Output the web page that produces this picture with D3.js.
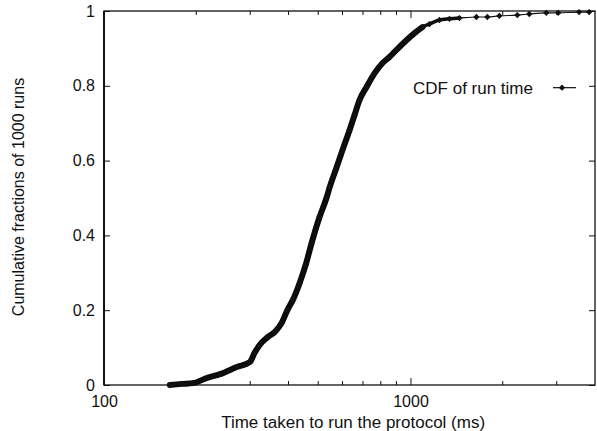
<!DOCTYPE html>
<html>
<head>
<meta charset="utf-8">
<script src="https://cdn.jsdelivr.net/npm/d3@7"></script>
<style>
  html, body { margin: 0; padding: 0; background: #fff; }
  text { font-family: "Liberation Sans", Arial, Helvetica, sans-serif; fill: #111; }
</style>
</head>
<body>
<div id="chart"></div>
<script>
// values (log x axis)
const runTimeMs = [164, 179, 195, 217, 239, 271, 299, 310, 322, 342, 361, 380, 397, 413, 435, 455,
  476, 505, 532, 545, 570, 600, 633, 657, 682, 719, 764, 811, 854, 900, 970, 1031, 1094, 1153,
  1243, 1340, 1444, 1641, 1782, 1950, 2231, 2441, 2773, 3034, 3549, 3829];
const cumulativeFraction = [0, 0.003, 0.005, 0.019, 0.029, 0.048, 0.061, 0.086, 0.107, 0.128, 0.142,
  0.166, 0.201, 0.227, 0.273, 0.321, 0.380, 0.449, 0.500, 0.529, 0.575, 0.628, 0.682, 0.722, 0.762,
  0.797, 0.834, 0.861, 0.877, 0.896, 0.922, 0.941, 0.957, 0.965, 0.976, 0.979, 0.981, 0.984, 0.984,
  0.987, 0.989, 0.992, 0.995, 0.995, 0.997, 0.997];

const xTickValues = [100, 1000];
const xTickLabels = ["100", "1000"];
const xMinorTicks = [200, 300, 400, 500, 600, 700, 800, 900, 2000, 3000];
const yTickValues = [0, 0.2, 0.4, 0.6, 0.8, 1];
const yTickLabels = ["0", "0.2", "0.4", "0.6", "0.8", "1"];

const xTitle = "Time taken to run the protocol (ms)";
const yTitle = "Cumulative fractions of 1000 runs";
const legendLabel = "CDF of run time";
// where the 1000 markers overlap into a solid band, and where it thins out
const denseLimitMs = 1100;
const fadeLimitMs = 1450;

const W = 597, H = 431;
const margin = { top: 11, right: 2, bottom: 46, left: 104 };
const width = W - margin.left - margin.right;
const height = H - margin.top - margin.bottom;

const svg = d3.select("#chart").append("svg")
  .attr("width", W).attr("height", H)
  .style("display", "block");
svg.append("rect").attr("width", W).attr("height", H).attr("fill", "#fff");

const g = svg.append("g").attr("transform", `translate(${margin.left},${margin.top})`);

const x = d3.scaleLog().domain([100, 4000]).range([0, width]);
const y = d3.scaleLinear().domain([0, 1]).range([height, 0]);

const data = runTimeMs.map((t, i) => ({ t, f: cumulativeFraction[i] }));

// axes: gnuplot style, ticks inward and mirrored
const xAxis = g.append("g").attr("transform", `translate(0,${height})`)
  .call(d3.axisBottom(x).tickValues(xTickValues).tickFormat((d, i) => xTickLabels[i])
    .tickSize(-7).tickPadding(10));
const xAxisTop = g.append("g")
  .call(d3.axisTop(x).tickValues(xTickValues).tickFormat("").tickSize(-7));
const yAxis = g.append("g")
  .call(d3.axisLeft(y).tickValues(yTickValues).tickFormat((d, i) => yTickLabels[i])
    .tickSize(-6).tickPadding(9));
const yAxisRight = g.append("g").attr("transform", `translate(${width},0)`)
  .call(d3.axisRight(y).tickValues(yTickValues).tickFormat("").tickSize(-6));

[xAxis, xAxisTop, yAxis, yAxisRight].forEach(a => {
  a.select(".domain").remove();
  a.selectAll("line").attr("stroke", "#111").attr("stroke-width", 1);
  a.selectAll("text").style("font-size", "16px").attr("fill", "#111");
});
xAxis.selectAll("text").attr("dy", "0.75em");

// minor log ticks, top and bottom
g.selectAll(".minor-b").data(xMinorTicks).join("line").attr("class", "minor-b")
  .attr("x1", d => x(d)).attr("x2", d => x(d)).attr("y1", height).attr("y2", height - 4)
  .attr("stroke", "#111");
g.selectAll(".minor-t").data(xMinorTicks).join("line").attr("class", "minor-t")
  .attr("x1", d => x(d)).attr("x2", d => x(d)).attr("y1", 0).attr("y2", 4)
  .attr("stroke", "#111");

// frame
g.append("rect").attr("width", width).attr("height", height)
  .attr("fill", "none").attr("stroke", "#111").attr("stroke-width", 1.3);
g.append("line").attr("x1", 0).attr("x2", 0).attr("y1", 0).attr("y2", height)
  .attr("stroke", "#111").attr("stroke-width", 2);

// curve
const line = d3.line().x(d => x(d.t)).y(d => y(d.f)).curve(d3.curveMonotoneX);
g.append("path").datum(data.filter(d => d.t <= fadeLimitMs))
  .attr("d", line).attr("fill", "none").attr("stroke", "#0a0a0a")
  .attr("stroke-width", 3.5).attr("stroke-linejoin", "round").attr("stroke-linecap", "round");
g.append("path").datum(data.filter(d => d.t <= denseLimitMs))
  .attr("d", line).attr("fill", "none").attr("stroke", "#0a0a0a")
  .attr("stroke-width", 6).attr("stroke-linejoin", "round").attr("stroke-linecap", "round");
g.append("path").datum(data)
  .attr("d", line).attr("fill", "none").attr("stroke", "#111").attr("stroke-width", 1.2);

const diamond = d3.symbol().type(d3.symbolSquare).size(20);
g.selectAll(".pt").data(data).join("path").attr("class", "pt")
  .attr("d", diamond)
  .attr("transform", d => `translate(${x(d.t)},${y(d.f)}) rotate(45)`)
  .attr("fill", "#111");

// legend
const ly = y(0.795);
g.append("text").attr("x", 429).attr("y", ly).attr("dy", "0.35em")
  .attr("text-anchor", "end").style("font-size", "17px").text(legendLabel);
g.append("line").attr("x1", 449).attr("x2", 472).attr("y1", ly).attr("y2", ly)
  .attr("stroke", "#111").attr("stroke-width", 1.2);
g.append("path").attr("d", diamond)
  .attr("transform", `translate(458,${ly}) rotate(45)`).attr("fill", "#111");

// titles
svg.append("text").attr("x", margin.left + x(650)).attr("y", 428)
  .attr("text-anchor", "middle").style("font-size", "17px").text(xTitle);
svg.append("text").attr("transform", `translate(24,197) rotate(-90)`)
  .attr("text-anchor", "middle").style("font-size", "16px").text(yTitle);
</script>
</body>
</html>
